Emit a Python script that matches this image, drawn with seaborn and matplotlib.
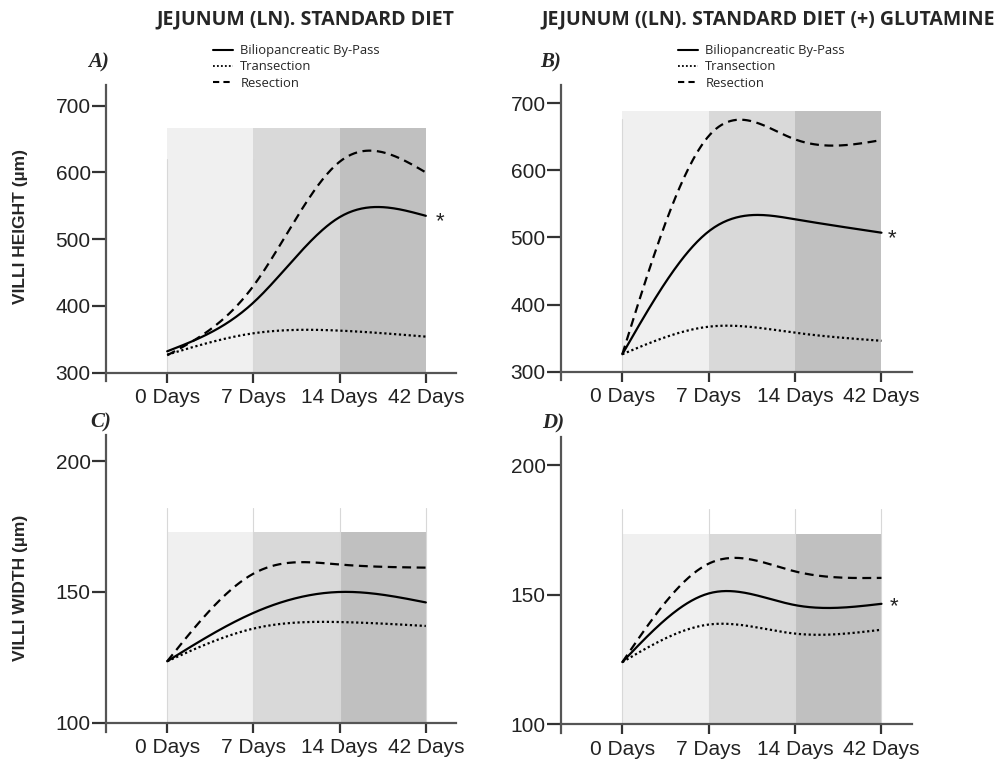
import numpy as np
import pandas as pd
import matplotlib
matplotlib.use("Agg")
import matplotlib.pyplot as plt
from matplotlib.lines import Line2D
import seaborn as sns

# Datos
days = ["0 Days", "7 Days", "14 Days", "42 Days"]
groups = ["Biliopancreatic By-Pass", "Transection", "Resection"]

height_std_bypass = [332, 405, 533, 535]
height_std_trans = [327, 359, 363, 354]
height_std_resec = [326, 430, 616, 600]

height_glu_bypass = [326, 509, 527, 507]
height_glu_trans = [326, 367, 358, 346]
height_glu_resec = [326, 651, 646, 645]

width_std_bypass = [123.5, 142, 150, 146]
width_std_trans = [123.5, 136, 138.5, 137]
width_std_resec = [123.5, 157, 160.5, 159.3]

width_glu_bypass = [124, 150.5, 146, 146.5]
width_glu_trans = [124, 138.5, 135, 136.5]
width_glu_resec = [124, 162, 159, 156.5]

shade_colors = ["#f0f0f0", "#d9d9d9", "#c0c0c0"]


def natural_spline(xs, ys, n=60):
    # curva suave tipo GraphPad que pasa por los puntos
    x = np.asarray(xs, float)
    y = np.asarray(ys, float)
    m = len(x)
    h = np.diff(x)
    A = np.zeros((m, m))
    b = np.zeros(m)
    A[0, 0] = A[-1, -1] = 1
    for i in range(1, m - 1):
        A[i, i - 1] = h[i - 1]
        A[i, i] = 2 * (h[i - 1] + h[i])
        A[i, i + 1] = h[i]
        b[i] = 3 * ((y[i + 1] - y[i]) / h[i] - (y[i] - y[i - 1]) / h[i - 1])
    c = np.linalg.solve(A, b)
    xx, yy = [], []
    for i in range(m - 1):
        bi = (y[i + 1] - y[i]) / h[i] - h[i] * (2 * c[i] + c[i + 1]) / 3
        di = (c[i + 1] - c[i]) / (3 * h[i])
        t = np.linspace(0, h[i], n, endpoint=(i == m - 2))
        xx.append(x[i] + t)
        yy.append(y[i] + bi * t + c[i] * t ** 2 + di * t ** 3)
    return np.concatenate(xx), np.concatenate(yy)


def build_df(series):
    rows = []
    for g, vals in zip(groups, series):
        xs, ys = natural_spline(range(len(vals)), vals)
        rows.append(pd.DataFrame({"x": xs, "value": ys, "group": g}))
    return pd.concat(rows, ignore_index=True)


sns.set_style("white")
plt.rcParams["font.family"] = ["Liberation Sans", "DejaVu Sans"]

fig = plt.figure(figsize=(10, 7.61), dpi=100)

panels = [
    dict(series=[height_std_bypass, height_std_trans, height_std_resec],
         rect=[0.106, 0.5103, 0.350, 0.378], ylim=(300, 731), yticks=[300, 400, 500, 600, 700],
         shade_top=666, vline_top=620, vlines=[0, 1], star=(3.12, 526), ext=13),
    dict(series=[height_glu_bypass, height_glu_trans, height_glu_resec],
         rect=[0.561, 0.5116, 0.3507, 0.3767], ylim=(300, 727), yticks=[300, 400, 500, 600, 700],
         shade_top=689, vline_top=677, vlines=[0], star=(3.07, 498), ext=13),
    dict(series=[width_std_bypass, width_std_trans, width_std_resec],
         rect=[0.106, 0.0503, 0.350, 0.378], ylim=(100, 210), yticks=[100, 150, 200],
         shade_top=173, vline_top=182, vlines=[0, 1, 2, 3], star=None, ext=3.5),
    dict(series=[width_glu_bypass, width_glu_trans, width_glu_resec],
         rect=[0.561, 0.0482, 0.3507, 0.378], ylim=(100, 211), yticks=[100, 150, 200],
         shade_top=173.6, vline_top=183, vlines=[0, 1, 2, 3], star=(3.09, 145.5), ext=3.5),
]

styles = {"Biliopancreatic By-Pass": "", "Transection": (1, 1.2), "Resection": (4, 2.5)}
axes = []
for p in panels:
    ax = fig.add_axes(p["rect"])
    axes.append(ax)
    y0 = p["ylim"][0]
    for i, col in enumerate(shade_colors):
        ax.fill_between([i, i + 1], y0, p["shade_top"], color=col, lw=0, zorder=0)
    for v in p["vlines"]:
        ax.plot([v, v], [y0, p["vline_top"]], color="#d8d8d8", lw=0.8, zorder=1)
    df = build_df(p["series"])
    sns.lineplot(data=df, x="x", y="value", style="group", dashes=styles,
                 color="black", linewidth=1.6, legend=False, ax=ax, zorder=3,
                 estimator=None, sort=False)
    ax.set_xlim(-0.71, 3.35)
    ax.set_ylim(*p["ylim"])
    ax.set_xticks(range(len(days)))
    ax.set_xticklabels(days)
    ax.set_yticks(p["yticks"])
    ax.set_xlabel("")
    ax.set_ylabel("")
    for s in ["top", "right"]:
        ax.spines[s].set_visible(False)
    for s in ["left", "bottom"]:
        ax.spines[s].set_color("#555555")
        ax.spines[s].set_linewidth(1.6)
    ax.spines["left"].set_bounds(p["ylim"][0] - p["ext"], p["ylim"][1])
    ax.tick_params(axis="y", length=10, width=1.6, color="#333333", pad=1,
                   labelsize=15, labelcolor="#222222", left=True)
    ax.tick_params(axis="x", length=7, width=1.6, color="#333333", pad=4,
                   labelsize=15, labelcolor="#222222", bottom=True)
    ax.grid(False)
    if p["star"]:
        ax.text(p["star"][0], p["star"][1], "*", fontsize=16, ha="left", va="center",
                color="#222222")

# titulos
fig.text(0.305, 0.975, "JEJUNUM (LN). STANDARD DIET", ha="center", va="center",
         fontsize=14, fontweight="bold", family="Open Sans")
fig.text(0.768, 0.975, "JEJUNUM ((LN). STANDARD DIET (+) GLUTAMINE", ha="center",
         va="center", fontsize=14, fontweight="bold", family="Open Sans")

# letras de panel
for lab, x, y in [("A)", 0.088, 0.918), ("B)", 0.540, 0.918), ("C)", 0.090, 0.445), ("D)", 0.542, 0.443)]:
    fig.text(x, y, lab, fontsize=15, fontweight="bold", style="italic",
             family="Liberation Serif", ha="left", va="center")

# leyendas
handles = [Line2D([], [], color="black", lw=1.5, ls="-"),
           Line2D([], [], color="black", lw=1.3, ls=(0, (1, 1.2))),
           Line2D([], [], color="black", lw=1.5, ls=(0, (3, 2)))]
for ax, xl in [(axes[0], 0.213), (axes[1], 0.678)]:
    ax.legend(handles, groups, loc="upper left", bbox_to_anchor=(xl, 0.942),
              bbox_transform=fig.transFigure, frameon=False,
              prop={"family": "Open Sans", "size": 9.4}, handlelength=1.5,
              handletextpad=0.6, labelspacing=0.25, borderpad=0, borderaxespad=0)

# etiquetas del eje y
fig.text(0.021, 1 - 226 / 761, "VILLI HEIGHT (µm)", rotation=90, ha="center", va="center",
         fontsize=12.5, fontweight="bold")
fig.text(0.021, 1 - 588 / 761, "VILLI WIDTH (µm)", rotation=90, ha="center", va="center",
         fontsize=12.5, fontweight="bold")

fig.savefig("out.png", dpi=100)
